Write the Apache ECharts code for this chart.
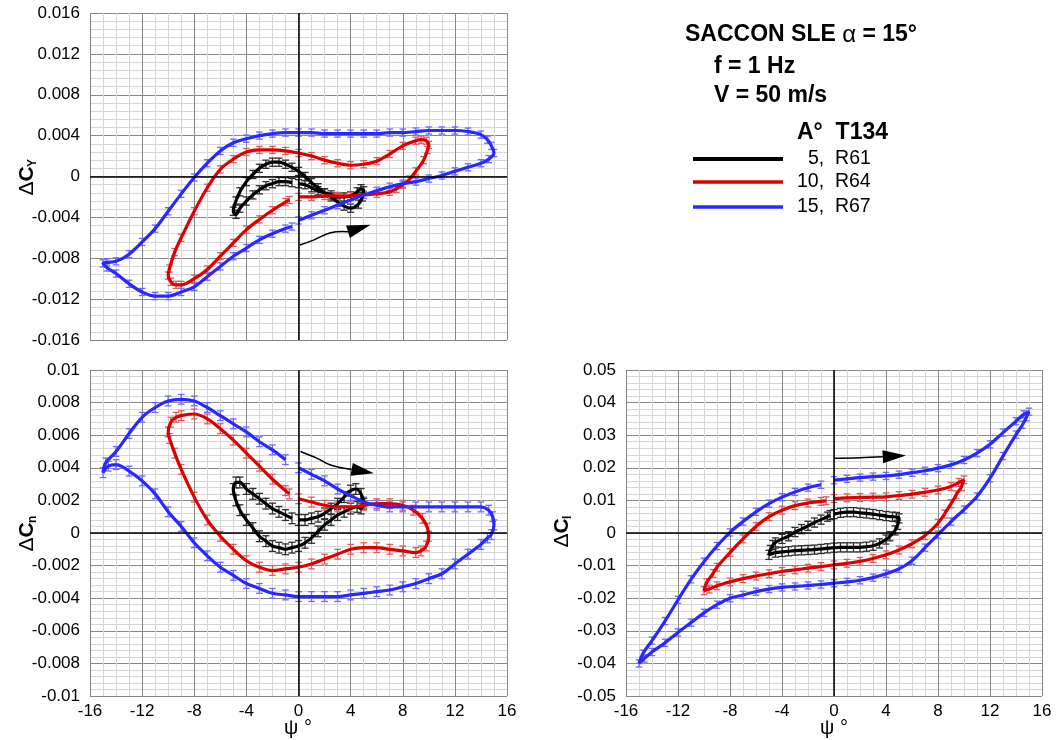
<!DOCTYPE html>
<html><head><meta charset="utf-8">
<script src="https://cdn.jsdelivr.net/npm/echarts@6/dist/echarts.min.js"></script>
<style>html,body{margin:0;padding:0;background:#fff}#c{width:1056px;height:740px}</style>
</head><body><div id="c"></div>
<script>
// ---------- DATA ([psi, value] along each hysteresis loop, starting at psi = 0 moving right) ----------
// Side force coefficient dCY
const cyBlack = [[0,-0.0007],[0.5,-0.0008],[1,-0.0011],[1.5,-0.0014],[2,-0.0016],[2.5,-0.0018],[3,-0.0020],[3.5,-0.0020],[4,-0.0019],[4.5,-0.0015],[4.8,-0.0012],[5,-0.0014],[4.9,-0.0020],[4.6,-0.0027],[4,-0.0031],[3.5,-0.0029],[3,-0.0025],[2.5,-0.0020],[2,-0.0016],[1.5,-0.0011],[1,-0.0006],[0.5,0.0000],[0,0.0005],[-0.5,0.0009],[-1,0.0012],[-1.5,0.0014],[-2,0.0014],[-2.5,0.0012],[-3,0.0008],[-3.5,0.0002],[-4,-0.0005],[-4.5,-0.0015],[-4.8,-0.0024],[-5,-0.0034],[-4.8,-0.0037],[-4.5,-0.0031],[-4,-0.0024],[-3.5,-0.0018],[-3,-0.0013],[-2.5,-0.0009],[-2,-0.0007],[-1.5,-0.0005],[-1,-0.0005],[-0.5,-0.0006]];
const cyRed = [[0,-0.0020],[1,-0.0020],[2,-0.0019],[3,-0.0019],[4,-0.0019],[5,-0.0018],[6,-0.0017],[7,-0.0015],[7.5,-0.0012],[8,-0.0008],[8.5,-0.0003],[9,0.0005],[9.6,0.0016],[9.9,0.0026],[10,0.0031],[9.8,0.0035],[9.4,0.0036],[9,0.0035],[8,0.0030],[7,0.0022],[6,0.0015],[5,0.0012],[4,0.0011],[3,0.0013],[2,0.0016],[1,0.0020],[0,0.0023],[-1,0.0025],[-2,0.0026],[-3,0.0026],[-4,0.0024],[-5,0.0017],[-6,0.0007],[-7,-0.0011],[-8,-0.0034],[-9,-0.0060],[-9.5,-0.0074],[-9.9,-0.0090],[-10,-0.0097],[-9.8,-0.0103],[-9.4,-0.0106],[-9,-0.0106],[-8,-0.0100],[-7,-0.0091],[-6,-0.0078],[-5,-0.0065],[-4,-0.0052],[-3,-0.0042],[-2,-0.0033],[-1,-0.0025],[-0.7,-0.0023]];
const cyBlue = [[0,-0.0043],[1,-0.0038],[2,-0.0033],[3,-0.0028],[4,-0.0023],[5,-0.0018],[6,-0.0014],[7,-0.0010],[8,-0.0007],[9,-0.0005],[10,-0.0002],[11,0.0001],[12,0.0005],[13,0.0009],[14,0.0013],[14.6,0.0017],[15,0.0023],[14.8,0.0030],[14.5,0.0036],[14,0.0041],[13,0.0044],[12,0.0045],[11,0.0045],[10,0.0045],[9,0.0044],[8,0.0043],[7,0.0043],[6,0.0042],[5,0.0042],[4,0.0042],[3,0.0042],[2,0.0042],[1,0.0043],[0,0.0043],[-1,0.0043],[-2,0.0042],[-3,0.0040],[-4,0.0037],[-5,0.0033],[-6,0.0025],[-7,0.0013],[-8,-0.0001],[-9,-0.0017],[-10,-0.0034],[-11,-0.0051],[-12,-0.0064],[-13,-0.0076],[-14,-0.0083],[-14.7,-0.0084],[-15,-0.0085],[-14.7,-0.0089],[-14,-0.0095],[-13,-0.0105],[-12,-0.0113],[-11,-0.0117],[-10,-0.0117],[-9,-0.0113],[-8,-0.0108],[-7,-0.0098],[-6,-0.0088],[-5,-0.0078],[-4,-0.0070],[-3,-0.0062],[-2,-0.0056],[-1,-0.0051],[-0.5,-0.0049]];
// Yawing moment coefficient dCn
const cnBlack = [[0,0.0008],[0.5,0.0008],[1,0.0009],[1.5,0.0010],[2,0.0012],[2.5,0.0015],[3,0.0018],[3.5,0.0022],[4,0.0026],[4.4,0.0027],[4.8,0.0024],[5,0.0018],[4.8,0.0015],[4.5,0.0016],[4,0.0015],[3.5,0.0013],[3,0.0011],[2.5,0.0008],[2,0.0005],[1.5,0.0001],[1,-0.0003],[0.5,-0.0006],[0,-0.0008],[-0.5,-0.0009],[-1,-0.0010],[-1.5,-0.0009],[-2,-0.0008],[-2.5,-0.0005],[-3,-0.0002],[-3.5,0.0003],[-4,0.0008],[-4.5,0.0014],[-4.8,0.0020],[-5,0.0027],[-4.8,0.0031],[-4.5,0.0031],[-4,0.0027],[-3.5,0.0024],[-3,0.0021],[-2.5,0.0018],[-2,0.0015],[-1.5,0.0013],[-1,0.0011],[-0.5,0.0009]];
const cnRed = [[0,0.0021],[1,0.0019],[2,0.0017],[3,0.0016],[4,0.0016],[5,0.0017],[6,0.0018],[7,0.0018],[8,0.0017],[8.8,0.0014],[9.5,0.0009],[9.9,0.0003],[10,-0.0002],[9.8,-0.0008],[9.4,-0.0011],[9,-0.0012],[8,-0.0011],[7,-0.0010],[6,-0.0009],[5,-0.0009],[4,-0.0010],[3,-0.0013],[2,-0.0016],[1,-0.0019],[0,-0.0021],[-1,-0.0022],[-2,-0.0023],[-3,-0.0021],[-4,-0.0017],[-5,-0.0010],[-6,-0.0002],[-7,0.0008],[-8,0.0022],[-9,0.0039],[-9.5,0.0049],[-9.9,0.0058],[-10,0.0062],[-9.8,0.0068],[-9.4,0.0071],[-9,0.0072],[-8,0.0073],[-7,0.0070],[-6,0.0064],[-5,0.0057],[-4,0.0049],[-3,0.0041],[-2,0.0033],[-1,0.0026],[-0.7,0.0024]];
const cnBlue = [[0,0.0040],[1,0.0036],[2,0.0032],[3,0.0027],[4,0.0023],[5,0.0019],[6,0.0017],[7,0.0016],[8,0.0016],[9,0.0016],[10,0.0016],[11,0.0016],[12,0.0016],[13,0.0016],[14,0.0016],[14.6,0.0014],[14.9,0.0010],[15,0.0005],[14.8,-0.0001],[14.5,-0.0003],[14,-0.0007],[13,-0.0013],[12,-0.0019],[11,-0.0025],[10,-0.0028],[9,-0.0031],[8,-0.0033],[7,-0.0035],[6,-0.0036],[5,-0.0037],[4,-0.0038],[3,-0.0039],[2,-0.0039],[1,-0.0039],[0,-0.0039],[-1,-0.0038],[-2,-0.0037],[-3,-0.0034],[-4,-0.0031],[-5,-0.0026],[-6,-0.0021],[-7,-0.0014],[-8,-0.0006],[-9,0.0004],[-10,0.0013],[-11,0.0024],[-12,0.0032],[-13,0.0038],[-14,0.0042],[-14.6,0.0041],[-15,0.0037],[-14.8,0.0043],[-14,0.0050],[-13,0.0061],[-12,0.0071],[-11,0.0077],[-10,0.0081],[-9,0.0082],[-8,0.0081],[-7,0.0077],[-6,0.0072],[-5,0.0067],[-4,0.0062],[-3,0.0056],[-2,0.0051],[-1,0.0045]];
// Rolling moment coefficient dCl
const clBlack = [[0,0.0058],[0.5,0.0062],[1,0.0064],[1.5,0.0064],[2,0.0062],[2.5,0.0060],[3,0.0058],[3.5,0.0055],[4,0.0052],[4.5,0.0050],[4.8,0.0049],[5,0.0045],[4.9,0.0025],[4.7,0.0008],[4.3,-0.0010],[4,-0.0020],[3.5,-0.0032],[3,-0.0039],[2.5,-0.0042],[2,-0.0044],[1.5,-0.0044],[1,-0.0044],[0.5,-0.0044],[0,-0.0045],[-0.5,-0.0047],[-1,-0.0049],[-1.5,-0.0051],[-2,-0.0052],[-2.5,-0.0053],[-3,-0.0054],[-3.5,-0.0056],[-4,-0.0058],[-4.5,-0.0060],[-5,-0.0067],[-4.9,-0.0052],[-4.7,-0.0037],[-4.5,-0.0029],[-4,-0.0018],[-3.5,-0.0010],[-3,0.0003],[-2.5,0.0012],[-2,0.0022],[-1.5,0.0032],[-1,0.0041],[-0.5,0.0050],[-0.3,0.0055]];
const clRed = [[0,0.0106],[1,0.0108],[2,0.0109],[3,0.0110],[4,0.0111],[5,0.0115],[6,0.0119],[7,0.0125],[8,0.0132],[9,0.0143],[9.6,0.0155],[10,0.0163],[9.8,0.0142],[9.4,0.0117],[9,0.0090],[8.5,0.0058],[8,0.0030],[7,-0.0008],[6,-0.0033],[5,-0.0052],[4,-0.0067],[3,-0.0078],[2,-0.0087],[1,-0.0093],[0,-0.0098],[-1,-0.0103],[-2,-0.0108],[-3,-0.0113],[-4,-0.0118],[-5,-0.0125],[-6,-0.0132],[-7,-0.0140],[-8,-0.0150],[-9,-0.0162],[-9.6,-0.0172],[-10,-0.0177],[-9.8,-0.0152],[-9.3,-0.0124],[-9,-0.0105],[-8,-0.0060],[-7,-0.0018],[-6,0.0020],[-5,0.0050],[-4,0.0070],[-3,0.0084],[-2,0.0092],[-1,0.0097],[-0.6,0.0099]];
const clBlue = [[0,0.0162],[1,0.0166],[2,0.0170],[3,0.0173],[4,0.0175],[5,0.0179],[6,0.0185],[7,0.0191],[8,0.0199],[9,0.0209],[10,0.0224],[11,0.0245],[12,0.0272],[13,0.0308],[14,0.0343],[14.6,0.0364],[15,0.0372],[14.8,0.0355],[14.5,0.0332],[14,0.0302],[13,0.0236],[12,0.0168],[11,0.0112],[10,0.0072],[9,0.0035],[8,-0.0005],[7,-0.0045],[6,-0.0085],[5,-0.0110],[4,-0.0125],[3,-0.0137],[2,-0.0145],[1,-0.0150],[0,-0.0154],[-1,-0.0158],[-2,-0.0161],[-3,-0.0164],[-4,-0.0167],[-5,-0.0172],[-6,-0.0180],[-7,-0.0190],[-8,-0.0200],[-9,-0.0220],[-10,-0.0245],[-11,-0.0275],[-12,-0.0305],[-13,-0.0337],[-14,-0.0365],[-14.6,-0.0385],[-15,-0.0400],[-14.7,-0.0370],[-14,-0.0330],[-13,-0.0270],[-12,-0.0205],[-11,-0.0142],[-10,-0.0088],[-9,-0.0040],[-8,0.0002],[-7,0.0035],[-6,0.0065],[-5,0.0090],[-4,0.0110],[-3,0.0126],[-2,0.0139],[-1,0.0148]];
// error-bar half heights per panel [black, red, blue]
const errCY = [0.0004, 0.00035, 0.00035];
const errCn = [0.00033, 0.0003, 0.0003];
const errCl = [0.0014, 0.0012, 0.0011];
// axis ranges
const psiRange = [-16, 16, 4];
const cyRange = [-0.016, 0.016, 0.004];
const cnRange = [-0.01, 0.01, 0.002];
const clRange = [-0.05, 0.05, 0.01];
// legend entries
const legendLabels = ['5,  R61', '10,  R64', '15,  R67'];
// direction arrows in data units
const arrowShaft = [
  [[0.1,-0.0067],[1.2,-0.0062],[2.46,-0.0055],[3.8,-0.0054]],
  [[0.15,0.0050],[1.44,0.00458],[2.46,0.00417],[4.08,0.0039]],
  [[0.0,0.0229],[2.0,0.0231],[3.75,0.0234]]
];
const arrowTip = [[5.53,-0.00473],[5.78,0.00366],[5.54,0.0238]];

// ---------- STYLE ----------
const FONT = "'Liberation Sans', Arial, sans-serif";
const COLORS = ['#000000', '#dd0000', '#2828ff'];
const BAR_COLORS = ['#2e2e2e', '#e45a5a', '#6a6aff'];
const CAP = [3.6, 3.3, 3.3];

const chart = echarts.init(document.getElementById('c'), null, {renderer: 'canvas'});

const grids = [
  {left: 90, top: 13, width: 417, height: 327},
  {left: 90, top: 370, width: 417, height: 326},
  {left: 626, top: 370, width: 416, height: 326}
];

function fmt(v) { return String(parseFloat(v.toFixed(4))); }

function xAxis(gi, labels) {
  return {
    type: 'value', gridIndex: gi, min: psiRange[0], max: psiRange[1], interval: psiRange[2],
    axisLine: {show: false}, axisTick: {show: false},
    axisLabel: {show: labels, color: '#000', fontSize: 17, fontFamily: FONT, margin: 7, formatter: fmt},
    splitLine: {show: true, showMinLine: true, showMaxLine: true, lineStyle: {color: '#888888', width: 1}},
    minorTick: {show: false, splitNumber: 4},
    minorSplitLine: {show: true, lineStyle: {color: '#d6d6d6', width: 1}},
    z: 0
  };
}
function yAxis(gi, r) {
  return {
    type: 'value', gridIndex: gi, min: r[0], max: r[1], interval: r[2],
    axisLine: {show: false}, axisTick: {show: false},
    axisLabel: {color: '#000', fontSize: 17, fontFamily: FONT, margin: 10, formatter: fmt},
    splitLine: {show: true, showMinLine: true, showMaxLine: true, lineStyle: {color: '#888888', width: 1}},
    minorTick: {show: false, splitNumber: 5},
    minorSplitLine: {show: true, lineStyle: {color: '#d6d6d6', width: 1}},
    z: 0
  };
}

function errRender(color, capHalf) {
  return function (params, api) {
    const x = api.value(0), y = api.value(1), e = api.value(2);
    const p1 = api.coord([x, y + e]);
    const p2 = api.coord([x, y - e]);
    const st = {stroke: color, lineWidth: 1.3};
    return {type: 'group', children: [
      {type: 'line', shape: {x1: p1[0], y1: p1[1], x2: p2[0], y2: p2[1]}, style: st},
      {type: 'line', shape: {x1: p1[0] - capHalf, y1: p1[1], x2: p1[0] + capHalf, y2: p1[1]}, style: st},
      {type: 'line', shape: {x1: p2[0] - capHalf, y1: p2[1], x2: p2[0] + capHalf, y2: p2[1]}, style: st}
    ]};
  };
}

const panels = [
  {data: [cyBlack, cyRed, cyBlue], err: errCY},
  {data: [cnBlack, cnRed, cnBlue], err: errCn},
  {data: [clBlack, clRed, clBlue], err: errCl}
];

const series = [];
panels.forEach((p, gi) => {
  series.push({
    type: 'line', xAxisIndex: gi, yAxisIndex: gi, data: [], silent: true,
    markLine: {silent: true, symbol: 'none', animation: false, label: {show: false},
      lineStyle: {color: '#000', width: 1.5, type: 'solid'},
      data: [{xAxis: 0}, {yAxis: 0}]}
  });
  p.data.forEach((d, k) => {
    series.push({
      type: 'custom', xAxisIndex: gi, yAxisIndex: gi, silent: true,
      renderItem: errRender(BAR_COLORS[k], CAP[k]),
      encode: {x: 0, y: 1},
      data: d.map(pt => [pt[0], pt[1], p.err[k]]),
      z: 3
    });
    series.push({
      type: 'line', xAxisIndex: gi, yAxisIndex: gi, data: d, silent: true,
      showSymbol: false, smooth: 0.35,
      lineStyle: {color: COLORS[k], width: 3.2},
      itemStyle: {color: COLORS[k]},
      z: 4
    });
  });
});

chart.setOption({
  backgroundColor: '#ffffff',
  animation: false,
  grid: grids.map(g => Object.assign({containLabel: false, show: false}, g)),
  xAxis: [xAxis(0, false), xAxis(1, true), xAxis(2, true)],
  yAxis: [yAxis(0, cyRange), yAxis(1, cnRange), yAxis(2, clRange)],
  series: series
});

// ---------- annotations ----------
function axisTitle(cx, cy, sub) {
  return {type: 'group', x: cx, y: cy, rotation: Math.PI / 2, silent: true, children: [
    {type: 'text', x: -5, y: 0, style: {text: '{d|Δ}{c|C}', align: 'center', verticalAlign: 'middle',
      rich: {d: {fontFamily: FONT, fontSize: 21, fill: '#000'}, c: {fontFamily: FONT, fontSize: 21, fontWeight: 'bold', fill: '#000'}}}},
    {type: 'text', x: 9, y: 6, style: {text: sub, align: 'left', verticalAlign: 'middle', fontFamily: FONT, fontSize: 12, fontWeight: 'bold', fill: '#000'}}
  ]};
}

const BOLD = 23;
const graphics = [
  axisTitle(27, 176, 'Y'),
  axisTitle(27, 532, 'n'),
  axisTitle(562, 528, 'l'),
  {type: 'text', x: 298, y: 728, style: {text: 'ψ °', align: 'center', verticalAlign: 'middle', fontFamily: FONT, fontSize: 20, fill: '#000'}},
  {type: 'text', x: 834, y: 728, style: {text: 'ψ °', align: 'center', verticalAlign: 'middle', fontFamily: FONT, fontSize: 20, fill: '#000'}},
  {type: 'text', x: 685, y: 35, style: {text: '{b|SACCON SLE }{a|α}{b| = 15°}', verticalAlign: 'middle',
    rich: {b: {fontFamily: FONT, fontSize: BOLD, fontWeight: 'bold', fill: '#000'}, a: {fontFamily: FONT, fontSize: 24, fill: '#000'}}}},
  {type: 'text', x: 714, y: 67, style: {text: 'f = 1 Hz', verticalAlign: 'middle', fontFamily: FONT, fontSize: BOLD, fontWeight: 'bold', fill: '#000'}},
  {type: 'text', x: 714, y: 96, style: {text: 'V = 50 m/s', verticalAlign: 'middle', fontFamily: FONT, fontSize: BOLD, fontWeight: 'bold', fill: '#000'}},
  {type: 'text', x: 797, y: 133, style: {text: 'A°  T134', verticalAlign: 'middle', fontFamily: FONT, fontSize: BOLD, fontWeight: 'bold', fill: '#000'}}
];
const legendY = [159, 182, 207];
const legendX = [808, 797, 797];
legendLabels.forEach((t, k) => {
  graphics.push({type: 'line', shape: {x1: 693, y1: legendY[k], x2: 783, y2: legendY[k]}, style: {stroke: COLORS[k], lineWidth: k === 0 ? 4 : 3.5}});
  graphics.push({type: 'text', x: legendX[k], y: legendY[k], style: {text: t, verticalAlign: 'middle', fontFamily: FONT, fontSize: 19.5, fill: '#000'}});
});

arrowShaft.forEach((pts, gi) => {
  const px = pts.map(p => chart.convertToPixel({gridIndex: gi}, p));
  const tip = chart.convertToPixel({gridIndex: gi}, arrowTip[gi]);
  const base = px[px.length - 1];
  const dx = tip[0] - base[0], dy = tip[1] - base[1];
  const L = Math.sqrt(dx * dx + dy * dy);
  const nx = -dy / L, ny = dx / L, hw = 6.5;
  graphics.push({type: 'polyline', shape: {points: px, smooth: 0.4}, style: {stroke: '#000', lineWidth: 1.5, fill: null}, z: 10});
  graphics.push({type: 'polygon', shape: {points: [[tip[0], tip[1]], [base[0] + nx * hw, base[1] + ny * hw], [base[0] - nx * hw, base[1] - ny * hw]]}, style: {fill: '#000'}, z: 10});
});

chart.setOption({graphic: graphics});
</script>
</body></html>
